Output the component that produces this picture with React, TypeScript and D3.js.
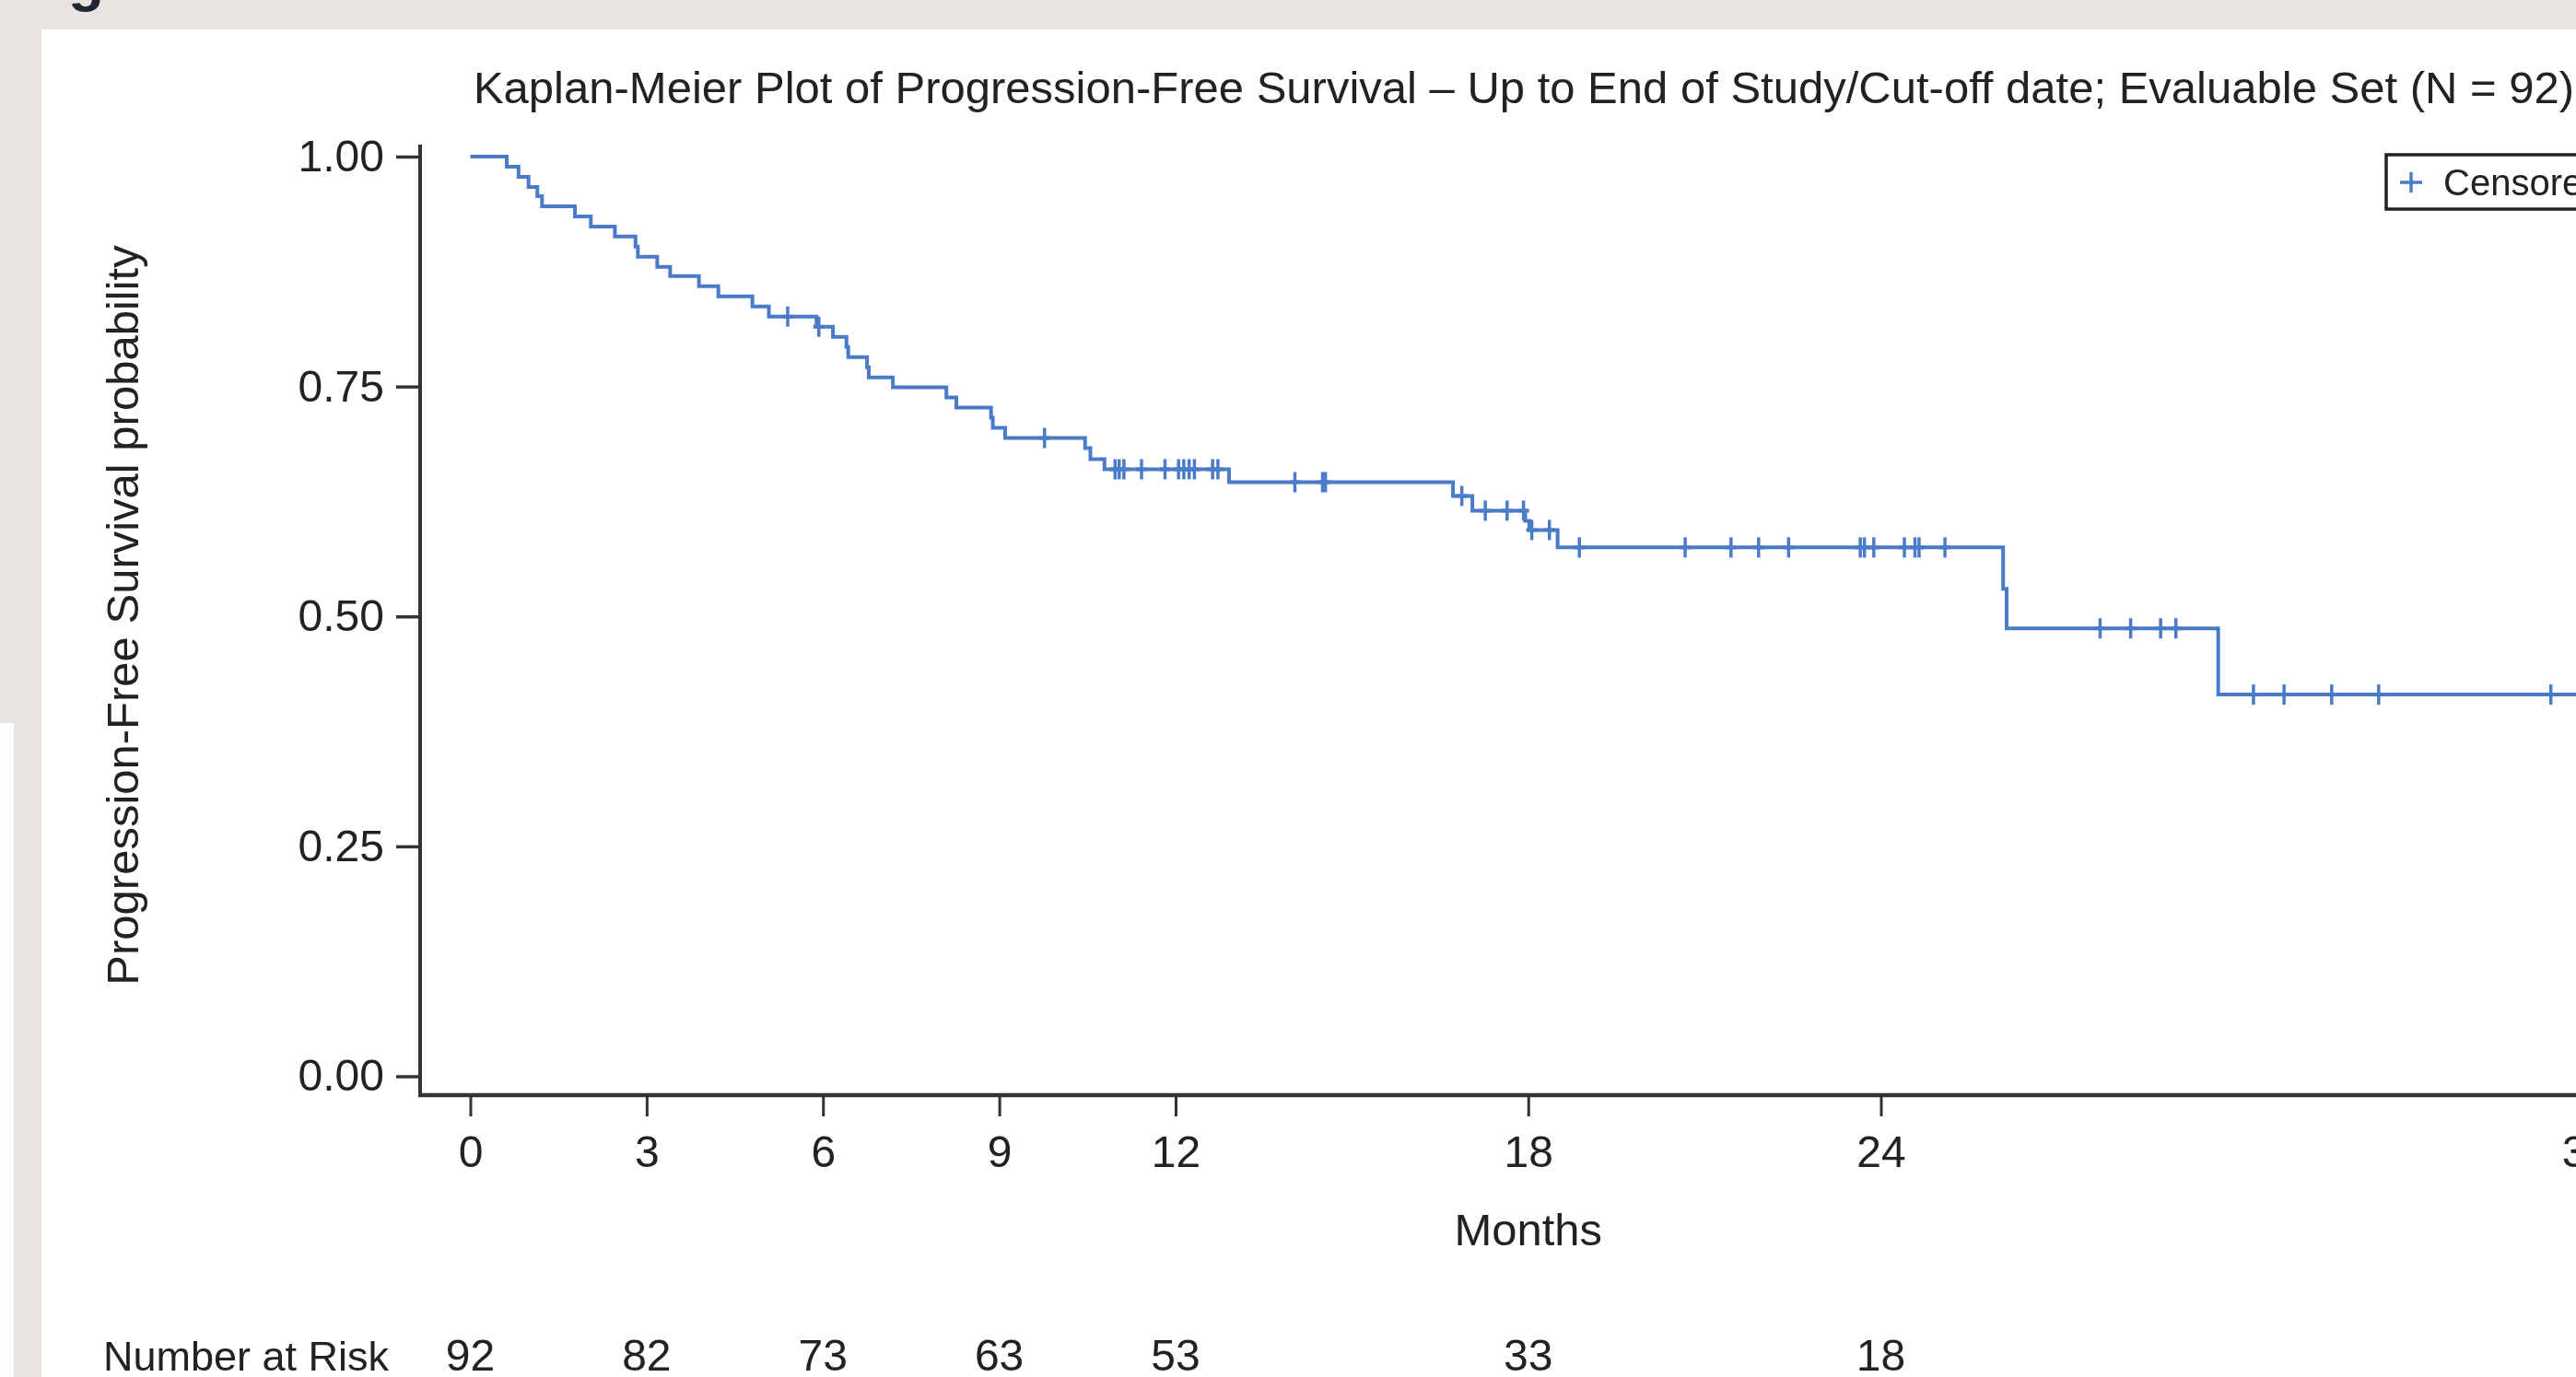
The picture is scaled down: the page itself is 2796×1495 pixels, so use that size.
import React, { useEffect, useRef } from 'react';
import * as d3 from 'd3';

// Kaplan-Meier steps: month of each drop and survival just after it
const stepMonths = [
  0, 0.62, 0.82, 0.99, 1.14, 1.22, 1.78, 2.05, 2.46, 2.81, 2.85, 3.18, 3.4, 3.89, 4.22, 4.8, 5.08,
  5.89, 6.17, 6.4, 6.43, 6.75, 6.78, 7.19, 8.1, 8.27, 8.86, 8.89, 9.1, 10.46, 10.55, 10.79, 12.91,
  16.72, 17.05, 17.95, 18.02, 18.5, 26.08, 26.14, 29.74,
];
const stepSurvival = [
  1.0, 0.989, 0.978, 0.967, 0.957, 0.946, 0.935, 0.924, 0.913, 0.902, 0.891, 0.88, 0.87, 0.859,
  0.848, 0.837, 0.826, 0.815, 0.804, 0.793, 0.782, 0.771, 0.76, 0.749, 0.738, 0.727, 0.716, 0.705,
  0.694, 0.683, 0.671, 0.66, 0.646, 0.631, 0.615, 0.604, 0.594, 0.575, 0.53, 0.487, 0.415,
];
const lastMonth = 36.5;

// censored observations (months)
const censorMonths = [
  5.4, 5.93, 9.77, 10.97, 11.04, 11.12, 11.42, 11.82, 12.05, 12.14, 12.23, 12.32, 12.63, 12.72,
  14.03, 14.5, 14.55, 16.87, 17.27, 17.64, 17.92, 18.06, 18.36, 18.87, 20.67, 21.45, 21.92, 22.43,
  23.65, 23.72, 23.88, 24.4, 24.58, 24.65, 25.09, 27.73, 28.25, 28.76, 29.02, 30.34, 30.86, 31.67,
  32.47, 35.4,
];

const xTicks = [0, 3, 6, 9, 12, 18, 24, 36];
const yTicks = [0, 0.25, 0.5, 0.75, 1];
const riskMonths = [0, 3, 6, 9, 12, 18, 24];
const riskCounts = [92, 82, 73, 63, 53, 33, 18];

const title =
  'Kaplan-Meier Plot of Progression-Free Survival \u2013 Up to End of Study/Cut-off date; Evaluable Set (N = 92)';

const W = 2796;
const H = 1495;

const App = () => {
  const ref = useRef<SVGSVGElement>(null);

  useEffect(() => {
    const svg = d3.select(ref.current);
    svg.selectAll('*').remove();

    const font = '"Liberation Sans", Arial, Helvetica, sans-serif';
    const ink = '#222';
    const axisInk = '#333';
    const blue = '#4a7bc8';

    // page frame around the figure
    svg.append('rect').attr('width', W).attr('height', H).attr('fill', '#e8e5e0');
    svg.append('rect').attr('x', 45).attr('y', 32).attr('width', W).attr('height', H).attr('fill', '#fff');
    svg.append('rect').attr('x', 0).attr('y', 785).attr('width', 15).attr('height', H).attr('fill', '#fff');
    svg
      .append('text')
      .attr('x', 74)
      .attr('y', 0)
      .attr('font-family', font)
      .attr('font-weight', 'bold')
      .attr('font-size', 64)
      .attr('fill', '#1d2530')
      .text('g');

    const x = d3.scaleLinear().domain([0, 36]).range([510.5, 2807]);
    const y = d3.scaleLinear().domain([0, 1]).range([1168.5, 170]);
    const axisX = 456;
    const axisY = 1189;

    // title
    svg
      .append('text')
      .attr('x', 1654)
      .attr('y', 112)
      .attr('text-anchor', 'middle')
      .attr('font-family', font)
      .attr('font-size', 49)
      .attr('fill', ink)
      .text(title);

    // y axis
    const gy = svg
      .append('g')
      .attr('transform', 'translate(' + axisX + ',0)')
      .call(
        d3
          .axisLeft(y)
          .tickValues(yTicks)
          .tickSize(26)
          .tickSizeOuter(0)
          .tickPadding(13)
          .tickFormat(d3.format('.2f'))
      );
    gy.select('.domain').remove();
    gy.selectAll('line').attr('stroke', axisInk).attr('stroke-width', 3.5);
    gy.selectAll('text').attr('font-family', font).attr('font-size', 48).attr('fill', ink);

    svg
      .append('line')
      .attr('x1', axisX)
      .attr('x2', axisX)
      .attr('y1', 157)
      .attr('y2', axisY)
      .attr('stroke', axisInk)
      .attr('stroke-width', 4);

    // x axis
    const gx = svg
      .append('g')
      .attr('transform', 'translate(0,' + axisY + ')')
      .call(d3.axisBottom(x).tickValues(xTicks).tickSize(23).tickSizeOuter(0).tickPadding(21));
    gx.select('.domain').remove();
    gx.selectAll('line').attr('stroke', axisInk).attr('stroke-width', 3);
    gx.selectAll('text').attr('font-family', font).attr('font-size', 48).attr('fill', ink);

    svg
      .append('line')
      .attr('x1', axisX - 2)
      .attr('x2', W + 10)
      .attr('y1', axisY)
      .attr('y2', axisY)
      .attr('stroke', axisInk)
      .attr('stroke-width', 4.5);

    // axis titles
    svg
      .append('text')
      .attr('transform', 'translate(150,668) rotate(-90)')
      .attr('text-anchor', 'middle')
      .attr('font-family', font)
      .attr('font-size', 49)
      .attr('fill', ink)
      .text('Progression-Free Survival probability');

    svg
      .append('text')
      .attr('x', x(18))
      .attr('y', 1352)
      .attr('text-anchor', 'middle')
      .attr('font-family', font)
      .attr('font-size', 49)
      .attr('fill', ink)
      .text('Months');

    // survival curve
    const pts: [number, number][] = stepMonths.map((m, i) => [m, stepSurvival[i]]);
    pts.push([lastMonth, stepSurvival[stepSurvival.length - 1]]);
    const line = d3
      .line<[number, number]>()
      .x(d => x(d[0]))
      .y(d => y(d[1]))
      .curve(d3.curveStepAfter);
    svg
      .append('path')
      .datum(pts)
      .attr('fill', 'none')
      .attr('stroke', blue)
      .attr('stroke-width', 4)
      .attr('d', line);

    // censor marks
    const survAt = (m: number) => stepSurvival[Math.max(0, d3.bisectRight(stepMonths, m) - 1)];
    const marks = svg
      .selectAll('.censor')
      .data(censorMonths)
      .enter()
      .append('g')
      .attr('class', 'censor')
      .attr('transform', d => 'translate(' + x(d) + ',' + y(survAt(d)) + ')');
    marks
      .append('line')
      .attr('y1', -11)
      .attr('y2', 11)
      .attr('stroke', blue)
      .attr('stroke-width', 3.5);
    marks
      .append('line')
      .attr('x1', -6)
      .attr('x2', 6)
      .attr('stroke', blue)
      .attr('stroke-width', 4);

    // legend
    svg
      .append('rect')
      .attr('x', 2590)
      .attr('y', 168)
      .attr('width', 400)
      .attr('height', 59)
      .attr('fill', '#fff')
      .attr('stroke', '#222')
      .attr('stroke-width', 3.5);
    const lg = svg.append('g').attr('transform', 'translate(2617,198)');
    lg.append('line').attr('y1', -11).attr('y2', 11).attr('stroke', blue).attr('stroke-width', 3.5);
    lg.append('line').attr('x1', -12).attr('x2', 12).attr('stroke', blue).attr('stroke-width', 3.5);
    svg
      .append('text')
      .attr('x', 2652)
      .attr('y', 212)
      .attr('font-family', font)
      .attr('font-size', 40)
      .attr('fill', ink)
      .text('Censored');

    // number at risk row
    svg
      .append('text')
      .attr('x', 112)
      .attr('y', 1488)
      .attr('font-family', font)
      .attr('font-size', 45)
      .attr('fill', ink)
      .text('Number at Risk');
    svg
      .selectAll('.risk')
      .data(riskMonths)
      .enter()
      .append('text')
      .attr('class', 'risk')
      .attr('x', d => x(d))
      .attr('y', 1488)
      .attr('text-anchor', 'middle')
      .attr('font-family', font)
      .attr('font-size', 48)
      .attr('fill', ink)
      .text((d, i) => riskCounts[i]);
  }, []);

  return (
    <div style={{ position: 'fixed', left: 0, top: 0, width: W, height: H, overflow: 'hidden' }}>
      <svg ref={ref} width={W} height={H} style={{ display: 'block' }} />
    </div>
  );
};

export default App;
